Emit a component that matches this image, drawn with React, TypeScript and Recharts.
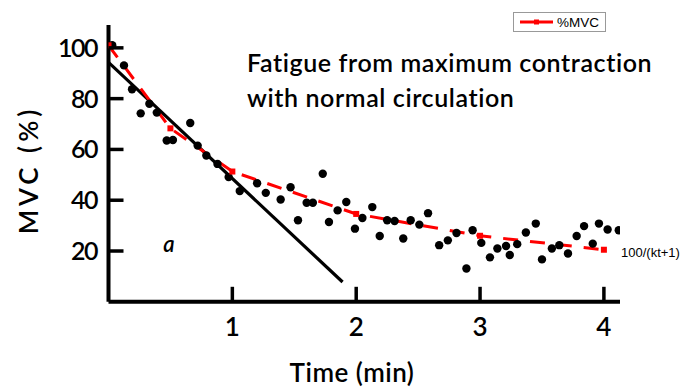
import React from 'react';
import { ComposedChart, Line, Scatter, XAxis, YAxis } from 'recharts';

// ---- data ----
const xTicks = [1, 2, 3, 4];
const yTicks = [20, 40, 60, 80, 100];

// red dashed fitted curve 100/(kt+1)
const fitTimes = [0, 0.5, 1, 2, 3, 4];
const fitValues = [101, 68.3, 51.3, 34.6, 26, 20.5];

// black straight line
const trendTimes = [0, 1.89];
const trendValues = [94.3, 7.8];

// observed points (time in min, %MVC)
const obsTimes = [
  0.03, 0.125, 0.19, 0.26, 0.33, 0.39, 0.47, 0.52, 0.66, 0.72, 0.79, 0.88, 0.97,
  1.06, 1.2, 1.27, 1.39, 1.47, 1.53, 1.6, 1.65, 1.73, 1.78, 1.85, 1.92, 1.99,
  2.05, 2.13, 2.19, 2.25, 2.31, 2.38, 2.44, 2.51, 2.58, 2.67, 2.74, 2.81, 2.89,
  2.94, 3.01, 3.08, 3.14, 3.21, 3.24, 3.3, 3.37, 3.45, 3.5, 3.58, 3.64, 3.71,
  3.78, 3.84, 3.91, 3.96, 4.03, 4.12,
];
const obsValues = [
  101, 93.1, 83.7, 74.2, 78, 74.5, 63.5, 63.7, 70.4, 61.5, 57.6, 54.3, 49.1,
  43.6, 46.7, 42.9, 40.3, 45.1, 32.1, 39, 39, 50.4, 31.4, 36, 39.3, 28.8,
  33, 37.3, 25.9, 32.1, 31.8, 24.9, 32.1, 30.4, 34.9, 22.3, 24.2, 27.1, 13.1,
  28.2, 23.2, 17.5, 21, 22, 18.4, 22.7, 27.3, 30.8, 16.7, 21, 22.3, 19,
  25.9, 29.8, 22.9, 30.8, 28.5, 28.2,
];

const fitData = fitTimes.map((t, i) => ({ t, v: fitValues[i] }));
const trendData = trendTimes.map((t, i) => ({ t, v: trendValues[i] }));
const obsData = obsTimes.map((t, i) => ({ t, v: obsValues[i] }));

const FONT = 'Lato, "Open Sans", sans-serif';
const TICK_LEN = 15;
const Y_GAP = 11.5;
const X_GAP = 15;

const SquareDot = (props: any) => {
  const { cx, cy } = props;
  if (cx == null || cy == null) return null;
  return <rect x={cx - 3} y={cy - 3} width={6} height={6} fill="#ff0000" />;
};

const BlackDot = (props: any) => {
  const { cx, cy } = props;
  if (cx == null || cy == null) return null;
  return <circle cx={cx} cy={cy} r={4.2} fill="#000" />;
};

// y tick: inward tick mark plus label left of the axis
const YTick = (props: any) => {
  const { x, y, payload } = props;
  const axisX = x + Y_GAP;
  return (
    <g>
      <line x1={axisX} y1={y} x2={axisX + TICK_LEN} y2={y} stroke="#000" strokeWidth={3.5} />
      <text
        x={x}
        y={y}
        dy="0.36em"
        textAnchor="end"
        fontFamily={FONT}
        fontWeight={600}
        fontSize={25}
        letterSpacing={-1.5}
        fill="#000"
      >
        {payload.value}
      </text>
    </g>
  );
};

// x tick: upward tick mark plus label below the axis
const XTick = (props: any) => {
  const { x, y, payload } = props;
  const axisY = y - X_GAP;
  return (
    <g>
      <line x1={x} y1={axisY} x2={x} y2={axisY - TICK_LEN} stroke="#000" strokeWidth={3.5} />
      <text
        x={x}
        y={axisY + 34}
        textAnchor="middle"
        fontFamily={FONT}
        fontWeight={600}
        fontSize={26}
        fill="#000"
      >
        {payload.value}
      </text>
    </g>
  );
};

export default function App() {
  const W = 683;
  const H = 387;
  return (
    <div style={{ position: 'absolute', left: 0, top: 0, width: W, height: H, background: '#fff' }}>
      <ComposedChart
        width={W}
        height={H}
        margin={{ top: 25, right: 63, bottom: 25.2, left: 48.5 }}
      >
        <XAxis
          type="number"
          dataKey="t"
          domain={[0, 4.13]}
          ticks={xTicks}
          allowDataOverflow
          height={60}
          axisLine={{ stroke: '#000', strokeWidth: 4 }}
          tickLine={false}
          tickSize={0}
          tickMargin={X_GAP}
          tick={<XTick />}
        />
        <YAxis
          type="number"
          dataKey="v"
          domain={[0, 109]}
          ticks={yTicks}
          allowDataOverflow
          width={60}
          axisLine={{ stroke: '#000', strokeWidth: 4 }}
          tickLine={false}
          tickSize={0}
          tickMargin={Y_GAP}
          tick={<YTick />}
        />
        <Line
          data={trendData}
          dataKey="v"
          type="linear"
          stroke="#000"
          strokeWidth={3.2}
          dot={false}
          isAnimationActive={false}
        />
        <Scatter data={obsData} dataKey="v" shape={<BlackDot />} isAnimationActive={false} />
        <Line
          data={fitData}
          dataKey="v"
          type="linear"
          stroke="#ff0000"
          strokeWidth={3}
          strokeDasharray="15 12"
          dot={<SquareDot />}
          isAnimationActive={false}
        />
      </ComposedChart>
      <svg
        width={W}
        height={H}
        style={{ position: 'absolute', left: 0, top: 0, pointerEvents: 'none' }}
      >
        <text x={247} y={72} fontFamily={FONT} fontWeight={600} fontSize={25} letterSpacing={0.6} fill="#000">
          Fatigue from maximum contraction
        </text>
        <text x={247} y={107} fontFamily={FONT} fontWeight={600} fontSize={25} letterSpacing={0.6} fill="#000">
          with normal circulation
        </text>
        <text
          x={38}
          y={170}
          transform="rotate(-90, 38, 170)"
          textAnchor="middle"
          fontFamily={FONT}
          fontWeight={600}
          fontSize={26}
          letterSpacing={4}
          fill="#000"
        >
          MVC (%)
        </text>
        <text x={352} y={382} textAnchor="middle" fontFamily={FONT} fontWeight={600} fontSize={26} letterSpacing={0.5} fill="#000">
          Time (min)
        </text>
        <text x={169} y={252} textAnchor="middle" fontFamily={FONT} fontWeight={600} fontStyle="italic" fontSize={22} fill="#000">
          a
        </text>
        <text x={621} y={257} fontFamily="Arial, 'Liberation Sans', sans-serif" fontSize={13} fill="#000">
          100/(kt+1)
        </text>
        <rect x={513.5} y={12.5} width={92} height={19} fill="#fff" stroke="#999" strokeWidth={1} />
        <line x1={520} y1={22} x2={553} y2={22} stroke="#ff0000" strokeWidth={3} />
        <rect x={534} y={19.5} width={5} height={5} fill="#ff0000" />
        <text x={557} y={27} fontFamily="Arial, 'Liberation Sans', sans-serif" fontSize={13.5} fill="#000">
          %MVC
        </text>
      </svg>
    </div>
  );
}
